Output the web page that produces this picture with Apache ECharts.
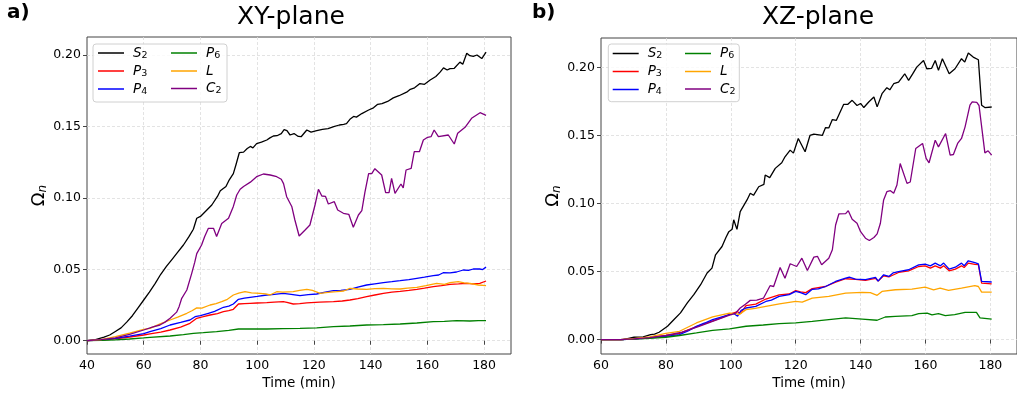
<!DOCTYPE html>
<html>
<head>
<meta charset="utf-8">
<script src="https://cdn.jsdelivr.net/npm/echarts@6/dist/echarts.min.js"></script>
<style>
  html, body { margin: 0; padding: 0; background: #fff; }
  #chart { width: 1017px; height: 398px; }
</style>
</head>
<body>
<div id="chart"></div>
<script>
// ---- XY-plane: [time (min), Omega_n] ----
const xyS2 = [[40,0],[43,0.0008],[46,0.0025],[48,0.004],[50,0.0065],[52,0.009],[54,0.013],[56,0.0175],[58,0.023],[60,0.0285],[62,0.034],[64,0.04],[66,0.0465],[68,0.052],[70,0.057],[72,0.062],[74,0.067],[76,0.073],[77.5,0.078],[78.7,0.0857],[80,0.087],[82,0.091],[84,0.095],[86,0.101],[87,0.105],[89,0.108],[90,0.112],[91.6,0.117],[92.5,0.123],[93.7,0.1316],[95.2,0.132],[96.5,0.1345],[97.6,0.136],[98.5,0.135],[99.8,0.138],[101.5,0.139],[103.4,0.1405],[104.5,0.142],[105.7,0.1433],[107,0.1435],[108.5,0.145],[109.5,0.1478],[110.5,0.147],[111.6,0.144],[113,0.145],[114.5,0.143],[115.5,0.1428],[117.5,0.1475],[119,0.146],[121,0.147],[123,0.148],[125,0.1485],[127,0.1498],[129,0.151],[130.5,0.1515],[131.5,0.152],[132.7,0.155],[134,0.157],[135,0.1565],[136.9,0.159],[139.3,0.1615],[141,0.163],[142.5,0.1655],[144,0.166],[146,0.1675],[148,0.170],[150,0.1715],[152.7,0.174],[154,0.176],[155.5,0.177],[157.4,0.180],[159,0.1795],[161,0.1825],[163,0.185],[164.5,0.188],[165.7,0.191],[167,0.1895],[168,0.1905],[169.5,0.1907],[171.5,0.195],[172.5,0.1935],[173.9,0.2012],[175,0.1995],[176.2,0.199],[177.5,0.2],[179.2,0.1975],[180.7,0.202]];
const xyP3 = [[40,0],[45,0.0004],[50,0.0013],[55,0.0026],[60,0.004],[62.2,0.0048],[66,0.006],[69.3,0.0075],[73,0.0095],[76.3,0.0122],[78.7,0.0157],[81,0.0168],[83.4,0.018],[86,0.019],[88.1,0.0203],[90,0.021],[91.6,0.022],[93.4,0.0257],[95.5,0.026],[97.5,0.0262],[100,0.0264],[103.4,0.0266],[106,0.027],[109.2,0.0273],[110.5,0.0268],[112.7,0.0257],[115,0.026],[117.5,0.0265],[122,0.027],[126.9,0.0273],[130,0.0278],[132.7,0.0285],[135.5,0.0295],[138.6,0.0308],[141.5,0.032],[144.5,0.0332],[147.5,0.034],[150.4,0.0346],[153.5,0.0353],[156.3,0.036],[159,0.0368],[162.1,0.0378],[165,0.0386],[168,0.0395],[171,0.0398],[173.9,0.0402],[176,0.0398],[178.5,0.0402],[180.7,0.0418]];
const xyP4 = [[40,0],[45,0.0005],[50,0.0017],[55,0.0032],[60,0.005],[62.2,0.0063],[66,0.0085],[69.3,0.011],[73,0.0128],[76.3,0.0145],[78.1,0.0168],[80,0.0175],[82.8,0.0192],[85,0.0205],[88.1,0.0234],[90,0.0242],[91.6,0.0257],[93.4,0.029],[95.5,0.0298],[97.5,0.0304],[100,0.031],[103.4,0.032],[106,0.0325],[109.2,0.0332],[112,0.0325],[115.1,0.0315],[118,0.0322],[121,0.0327],[124,0.034],[126.9,0.035],[129.5,0.0352],[132.7,0.036],[135.5,0.0375],[138.6,0.039],[141.5,0.0398],[144.5,0.0406],[147.5,0.0413],[150.4,0.042],[153.5,0.0428],[156.3,0.0437],[159,0.0445],[162.1,0.0455],[164,0.046],[165.6,0.0476],[168,0.0475],[170.3,0.0481],[172.7,0.0495],[174.5,0.0492],[176.2,0.0502],[178.5,0.0502],[179.5,0.0498],[180.7,0.0515]];
const xyP6 = [[40,0],[45,0.0002],[50,0.0006],[55,0.0012],[60,0.002],[62.2,0.0024],[69.3,0.0033],[74,0.0042],[77.5,0.0052],[81,0.0056],[85.7,0.0063],[90,0.0073],[93.4,0.0082],[98,0.0082],[103.4,0.0082],[109,0.0085],[115.1,0.0087],[121,0.009],[126.9,0.0098],[132.7,0.0103],[138.6,0.011],[144.5,0.0113],[150.4,0.0117],[156.3,0.0124],[162.1,0.0133],[166,0.0136],[170.3,0.014],[175,0.0138],[178,0.014],[180.7,0.0141]];
const xyL = [[40,0],[45,0.0008],[50,0.0028],[55,0.0053],[60,0.008],[62.2,0.0087],[66,0.012],[69.3,0.0145],[72,0.0165],[75.2,0.0192],[77,0.021],[78.7,0.023],[80.5,0.0228],[83.4,0.025],[85.5,0.026],[87.5,0.0273],[89.5,0.029],[91.6,0.032],[93.5,0.0333],[95.7,0.0343],[98,0.0335],[101,0.0332],[103,0.0328],[104.5,0.032],[106.9,0.0343],[109,0.034],[112.7,0.0343],[115,0.0352],[117.5,0.036],[119.5,0.0352],[122.2,0.0332],[125,0.0338],[128,0.0343],[130.5,0.0348],[132.7,0.0367],[135.5,0.0362],[138.6,0.036],[141.5,0.0365],[144.5,0.0367],[147.5,0.0363],[150.4,0.0362],[153,0.0368],[156.3,0.0374],[159.5,0.0385],[163.3,0.0402],[166,0.0395],[168,0.0406],[170.9,0.0413],[173,0.0405],[175,0.0402],[178,0.039],[180.7,0.0385]];
const xyC2 = [[40,0],[45,0.0007],[50,0.002],[55,0.0045],[60,0.0075],[63,0.0095],[65.7,0.011],[67.5,0.013],[69.3,0.0157],[71.6,0.020],[72.5,0.024],[73.4,0.0297],[75.2,0.0355],[76.9,0.047],[78,0.055],[78.7,0.061],[80.4,0.067],[81.5,0.073],[82.8,0.0787],[84.6,0.0787],[85.7,0.073],[87.5,0.082],[89.9,0.0857],[91.6,0.094],[92.8,0.102],[94,0.106],[95.2,0.108],[97.6,0.111],[99.8,0.1148],[102.2,0.1167],[104.6,0.116],[106.9,0.1148],[108.5,0.113],[109.3,0.110],[110.4,0.1008],[112.2,0.094],[113.3,0.0845],[114.8,0.0733],[116.9,0.0775],[118.6,0.081],[120.4,0.095],[121.6,0.106],[122.8,0.1013],[124.1,0.101],[125.1,0.0957],[127.2,0.0973],[128.4,0.0915],[130.4,0.0892],[132.3,0.0885],[133.9,0.0794],[135.7,0.088],[136.9,0.091],[138,0.104],[139.3,0.117],[140.4,0.117],[141.5,0.1204],[143.9,0.116],[145.3,0.1036],[146.5,0.1036],[147.4,0.1137],[148.6,0.1032],[150.7,0.1097],[151.5,0.107],[152.5,0.1195],[154.3,0.1207],[155.4,0.1323],[157.2,0.1323],[158.6,0.1405],[160.1,0.1424],[161.3,0.1428],[162.4,0.1475],[163.9,0.1428],[167.4,0.144],[169.5,0.1377],[170.7,0.1452],[173.3,0.1494],[175.6,0.1557],[178.6,0.1596],[180.7,0.1578]];

// ---- XZ-plane: [time (min), Omega_n] ----
const xzS2 = [[60,0],[66.8,0],[70.2,0.0017],[73,0.002],[75.3,0.0037],[76.5,0.004],[77.9,0.0054],[80.5,0.0098],[82.5,0.0147],[84.5,0.0196],[86.6,0.0269],[88.6,0.033],[90.7,0.0403],[92.7,0.0489],[94.2,0.0525],[95.3,0.0623],[97.3,0.0684],[98.5,0.075],[99.4,0.0793],[100.4,0.081],[100.9,0.088],[101.9,0.081],[102.9,0.094],[105,0.1026],[106,0.1075],[107,0.106],[108.6,0.1123],[110.2,0.114],[110.6,0.1209],[112,0.119],[113.7,0.1258],[115.7,0.1299],[116.7,0.1343],[118.3,0.1392],[119.3,0.137],[120.8,0.1477],[122.9,0.138],[124.4,0.150],[125.6,0.151],[128.2,0.150],[129.2,0.1558],[130.2,0.1555],[131.3,0.1617],[132.5,0.161],[134.8,0.1729],[136,0.1728],[137.4,0.1758],[138.9,0.172],[140,0.1735],[141,0.1705],[142.5,0.1746],[144.1,0.1782],[145.1,0.171],[146.6,0.1807],[148.1,0.1851],[149,0.1835],[150.2,0.188],[151.7,0.1892],[153.6,0.1953],[154.8,0.1905],[156,0.195],[157.3,0.2002],[159.4,0.2051],[160.4,0.199],[161.9,0.1993],[163,0.2051],[164,0.1978],[165.2,0.2064],[167.3,0.1954],[169.1,0.199],[171.1,0.2064],[172.1,0.2039],[173.2,0.2105],[174.7,0.2076],[176.3,0.2056],[177.3,0.1722],[178.3,0.1705],[180.4,0.1709]];
const xzP3 = [[60,0],[66,0],[70,0.0005],[75,0.0015],[80,0.003],[84.2,0.0045],[89.4,0.0095],[94.4,0.0137],[97,0.016],[99.6,0.0185],[102.1,0.0205],[103,0.019],[104.7,0.025],[107.7,0.026],[110.8,0.0298],[114.9,0.0328],[118,0.0335],[120,0.036],[121.5,0.035],[123.1,0.0345],[125.1,0.0374],[129.2,0.039],[132.3,0.0422],[135.4,0.0447],[138.4,0.0442],[141.5,0.0435],[144.6,0.045],[145.4,0.043],[147.1,0.0469],[148.7,0.046],[151.7,0.0493],[154.8,0.0505],[157.9,0.0537],[159.9,0.0542],[161.5,0.0525],[163,0.0542],[164.6,0.0525],[165.6,0.0542],[167.3,0.0505],[169.2,0.0518],[171.1,0.0542],[171.9,0.053],[173.2,0.0562],[175.2,0.0552],[176.3,0.055],[177.3,0.0415],[180.4,0.041]];
const xzP4 = [[60,0],[66,0],[70,0.0004],[75,0.0012],[80,0.0024],[84.2,0.0037],[87,0.0065],[89.4,0.0097],[92,0.0122],[94.4,0.0147],[97,0.0165],[99.6,0.0183],[101,0.019],[102.1,0.0172],[103.2,0.0215],[104.7,0.0232],[107.7,0.0244],[110.8,0.028],[112.5,0.029],[114.9,0.0317],[118,0.033],[120,0.0354],[121.5,0.0345],[123.1,0.033],[125.1,0.0369],[127,0.0372],[129.2,0.039],[132.3,0.0427],[135.4,0.0452],[136.5,0.0458],[138.4,0.0444],[141.5,0.044],[144.6,0.0457],[145.4,0.043],[147.1,0.0476],[148.7,0.0464],[150,0.049],[151.7,0.05],[154.8,0.0513],[157.9,0.0549],[159.9,0.0554],[161.5,0.0542],[163,0.0562],[164.6,0.0542],[165.6,0.0562],[167.3,0.0518],[169.2,0.0532],[171.1,0.0562],[171.9,0.0542],[173.2,0.0579],[175.2,0.0566],[176.3,0.0557],[177.3,0.0427],[180.4,0.0423]];
const xzP6 = [[60,0],[66,0],[70,0.0003],[75,0.0009],[80,0.0017],[84.2,0.003],[89.4,0.0049],[94.4,0.0068],[99.6,0.0078],[104.7,0.0098],[110,0.0107],[114.9,0.0117],[120,0.0122],[125.1,0.0134],[130.2,0.0147],[135.4,0.0159],[140.5,0.0151],[145.1,0.0142],[147.6,0.0166],[150.7,0.0171],[155.8,0.0176],[157.9,0.019],[160.5,0.0195],[162,0.0181],[164,0.019],[166.1,0.0176],[169,0.0183],[172.2,0.02],[175.7,0.02],[176.8,0.0159],[180.4,0.0151]];
const xzL = [[60,0],[66,0],[70,0.0007],[75,0.002],[80,0.0045],[84.2,0.0061],[89.4,0.0122],[94.4,0.0166],[99.6,0.0195],[101.7,0.019],[102.5,0.0183],[104.7,0.022],[107.5,0.023],[110.8,0.0244],[115,0.0262],[120,0.028],[122,0.0275],[125.1,0.0305],[130.2,0.0318],[135.4,0.0342],[140.5,0.0347],[143,0.0345],[145.1,0.0325],[146.6,0.0354],[150.7,0.0366],[155.8,0.0371],[159.9,0.0386],[162.5,0.0366],[164.5,0.0378],[167.1,0.0361],[171.1,0.0378],[175.2,0.0396],[176.3,0.039],[177.3,0.0349],[180.4,0.0349]];
const xzC2 = [[60,0],[66,0],[70,0.0005],[75,0.0015],[80,0.003],[85,0.0055],[90,0.0095],[95,0.014],[99.6,0.018],[101.5,0.0195],[102.9,0.0232],[104.5,0.026],[106,0.0288],[108,0.029],[110.1,0.0305],[112.1,0.0396],[113.2,0.039],[115.2,0.053],[116.7,0.045],[118.3,0.0557],[120.3,0.0537],[121.9,0.0598],[123.6,0.0508],[125.6,0.0606],[126.7,0.0612],[128,0.055],[130.2,0.0598],[131.3,0.066],[132.3,0.0842],[133.3,0.0923],[135.4,0.0925],[136.2,0.0947],[137.4,0.0884],[138.9,0.0855],[140,0.0793],[141.5,0.0745],[142.7,0.0728],[144.1,0.075],[145.1,0.0777],[146.1,0.0855],[147.1,0.1026],[148.1,0.1087],[149.2,0.1094],[150.2,0.1075],[151.2,0.1136],[152.2,0.1294],[154.3,0.1148],[155.3,0.1158],[157,0.1404],[159.1,0.1441],[160.2,0.1331],[161.1,0.1299],[163,0.1465],[164,0.1416],[166.2,0.1514],[167.6,0.1355],[168.6,0.136],[169.9,0.1441],[171.1,0.1478],[172.2,0.1563],[173.7,0.1722],[174.4,0.1746],[175.8,0.1743],[176.5,0.172],[178.3,0.1372],[179.3,0.1387],[180.4,0.1355]];

const seriesNames = ['S2', 'P3', 'P4', 'P6', 'L', 'C2'];
const seriesColors = ['#000000', '#ff0000', '#0000ff', '#008000', '#ffa500', '#800080'];
const legendColumns = [['S2', 'P3', 'P4'], ['P6', 'L', 'C2']];
const legendText = {
  S2: '{i|S}{s|2}', P3: '{i|P}{s|3}', P4: '{i|P}{s|4}',
  P6: '{i|P}{s|6}', L: '{i|L}', C2: '{i|C}{s|2}'
};
const panelTitles = ['XY-plane', 'XZ-plane'];
const panelLetters = ['a)', 'b)'];
const xAxisName = 'Time (min)';

const xyData = [xyS2, xyP3, xyP4, xyP6, xyL, xyC2];
const xzData = [xzS2, xzP3, xzP4, xzP6, xzL, xzC2];

const FONT = 'DejaVu Sans';
const INK = '#000';
const FRAME = '#444';
const GRIDLINE = { show: true, showMinLine: false, showMaxLine: false,
  lineStyle: { color: '#dcdcdc', type: [3, 2], width: 0.8 } };

function makeX(idx, min, max) {
  return {
    type: 'value', gridIndex: idx, min: min, max: max, interval: 20,
    name: xAxisName, nameLocation: 'middle', nameGap: 20,
    nameTextStyle: { fontFamily: FONT, fontSize: 13.5, color: INK },
    axisLine: { show: false },
    axisTick: { show: true, length: 4, lineStyle: { color: FRAME, width: 1 } },
    axisLabel: { show: true, margin: 5, fontFamily: FONT, fontSize: 12.5, color: INK,
      showMaxLabel: false, formatter: v => String(Math.round(v)) },
    splitLine: GRIDLINE
  };
}
function makeY(idx, min, max, gap) {
  return {
    type: 'value', gridIndex: idx, min: min, max: max, splitNumber: 5,
    name: '{o|Ω}{n|n}', nameLocation: 'middle', nameRotate: 90, nameGap: gap,
    nameTextStyle: { fontFamily: FONT, color: INK,
      rich: {
        o: { fontFamily: FONT, fontSize: 18, color: INK, lineHeight: 20 },
        n: { fontFamily: FONT, fontSize: 12, fontStyle: 'italic', color: INK, lineHeight: 12, verticalAlign: 'bottom' }
      } },
    axisLine: { show: false },
    axisTick: { show: true, length: 4, lineStyle: { color: FRAME, width: 1 } },
    axisLabel: { show: true, margin: 6, fontFamily: FONT, fontSize: 12.5, color: INK,
      showMinLabel: false, showMaxLabel: false, formatter: v => v.toFixed(2) },
    splitLine: GRIDLINE
  };
}

const series = [];
[xyData, xzData].forEach((panel, p) => {
  panel.forEach((d, k) => {
    series.push({
      type: 'line', name: seriesNames[k], data: d,
      xAxisIndex: p, yAxisIndex: p,
      showSymbol: false, symbol: 'none', smooth: false,
      lineStyle: { color: seriesColors[k], width: 1.3 },
      itemStyle: { color: seriesColors[k] },
      emphasis: { disabled: true }, z: 2 + k
    });
  });
});

function makeLegend(names, left, top) {
  return {
    orient: 'vertical', left: left, top: top, padding: 0, itemGap: 3.5,
    itemWidth: 26, itemHeight: 1.5, icon: 'rect',
    data: names, selectedMode: false,
    formatter: n => legendText[n],
    textStyle: { color: INK, fontFamily: FONT, padding: [0, 0, 0, 4],
      rich: {
        i: { fontFamily: FONT, fontSize: 13.5, fontStyle: 'italic', color: INK, lineHeight: 15 },
        s: { fontFamily: FONT, fontSize: 9.5, color: INK, lineHeight: 9, verticalAlign: 'bottom' }
      } }
  };
}

const option = {
  animation: false,
  backgroundColor: '#ffffff',
  title: [
    { text: panelTitles[0], left: 291, top: 5, textAlign: 'center', padding: 0,
      textStyle: { fontFamily: FONT, fontSize: 25, fontWeight: 'normal', color: INK } },
    { text: panelTitles[1], left: 818, top: 5, textAlign: 'center', padding: 0,
      textStyle: { fontFamily: FONT, fontSize: 25, fontWeight: 'normal', color: INK } },
    { text: panelLetters[0], left: 7, top: 3, padding: 0,
      textStyle: { fontFamily: FONT, fontSize: 20, fontWeight: 'bold', color: INK } },
    { text: panelLetters[1], left: 532, top: 3, padding: 0,
      textStyle: { fontFamily: FONT, fontSize: 20, fontWeight: 'bold', color: INK } }
  ],
  grid: [
    { left: 87, right: 506, top: 37, bottom: 44, show: true, borderColor: FRAME, borderWidth: 1, backgroundColor: 'transparent' },
    { left: 601, right: -2, top: 38, bottom: 44, show: true, borderColor: FRAME, borderWidth: 1, backgroundColor: 'transparent' }
  ],
  xAxis: [makeX(0, 40, 189.5), makeX(1, 60, 188.2)],
  yAxis: [makeY(0, -0.0093, 0.2126, 38), makeY(1, -0.0106, 0.2216, 37)],
  legend: [
    makeLegend(legendColumns[0], 98, 46),
    makeLegend(legendColumns[1], 171, 46),
    makeLegend(legendColumns[0], 612.7, 46.5),
    makeLegend(legendColumns[1], 685, 46.5)
  ],
  graphic: [
    { type: 'rect', z: 3, silent: true, shape: { x: 93, y: 44, width: 134, height: 58, r: 3 },
      style: { fill: 'rgba(255,255,255,0.8)', stroke: '#d0d0d0', lineWidth: 1 } },
    { type: 'rect', z: 3, silent: true, shape: { x: 608.3, y: 44, width: 131, height: 57.7, r: 3 },
      style: { fill: 'rgba(255,255,255,0.8)', stroke: '#d0d0d0', lineWidth: 1 } }
  ],
  series: series
};

const chart = echarts.init(document.getElementById('chart'), null, { renderer: 'canvas' });
chart.setOption(option);
</script>
</body>
</html>
